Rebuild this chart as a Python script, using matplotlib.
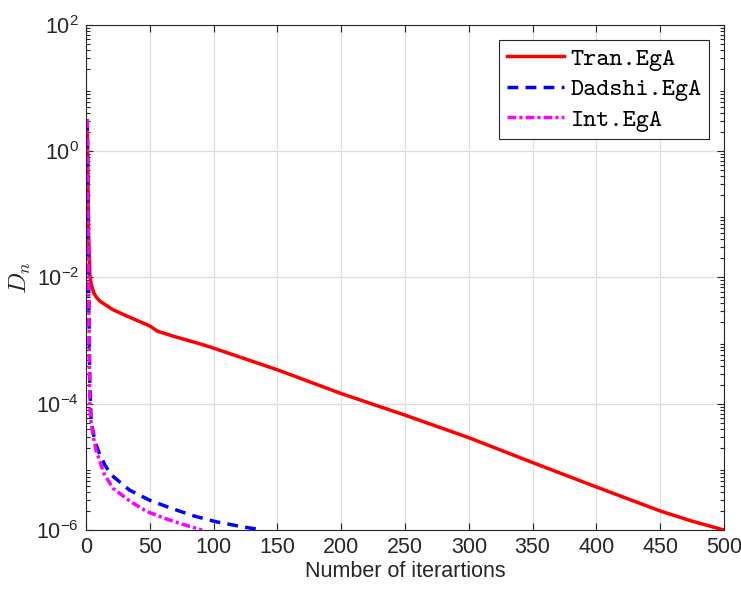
import numpy as np
import matplotlib
matplotlib.use('Agg')
import matplotlib.pyplot as plt
from matplotlib.ticker import LogLocator, NullFormatter, FixedLocator

# Values (D_n against iteration number)
tran_iter = [1, 2, 3, 4, 6, 8, 11, 21, 32, 48, 51, 56, 70, 91, 100, 136,
             150, 200, 250, 300, 350, 400, 425, 450, 475, 500]
tran_dn = [3.0, 5.0e-2, 1.12e-2, 7.9e-3, 5.75e-3, 4.9e-3, 4.2e-3, 3.1e-3,
           2.45e-3, 1.78e-3, 1.66e-3, 1.41e-3, 1.15e-3, 8.7e-4, 7.6e-4,
           4.3e-4, 3.45e-4, 1.45e-4, 6.6e-5, 2.9e-5, 1.17e-5, 4.8e-6,
           3.1e-6, 2.0e-6, 1.38e-6, 1.0e-6]

dadshi_iter = [1, 2, 3, 4, 6, 8, 11, 15, 20, 34, 50, 67, 85, 102, 123, 138]
dadshi_dn = [3.2, 1.0e-2, 2.0e-4, 5.6e-5, 3.2e-5, 2.2e-5, 1.55e-5, 1.05e-5,
             7.4e-6, 4.3e-6, 2.95e-6, 2.2e-6, 1.66e-6, 1.35e-6, 1.12e-6, 1.0e-6]

int_iter = [1, 2, 3, 4, 6, 8, 14, 21, 35, 48, 61, 74, 91]
int_dn = [3.2, 1.0e-2, 8.9e-5, 5.0e-5, 2.8e-5, 1.8e-5, 7.9e-6, 4.6e-6,
          2.8e-6, 1.95e-6, 1.55e-6, 1.26e-6, 1.0e-6]

labels = ['Tran.EgA', 'Dadshi.EgA', 'Int.EgA']
xticks = [0, 50, 100, 150, 200, 250, 300, 350, 400, 450, 500]

plt.rcParams['font.family'] = ['Liberation Sans', 'DejaVu Sans']
plt.rcParams['mathtext.fontset'] = 'custom'
plt.rcParams['mathtext.rm'] = 'Liberation Sans'
plt.rcParams['mathtext.it'] = 'Liberation Sans:italic'

dark = '#262626'
fig = plt.figure(figsize=(7.41, 5.90), dpi=100)
ax = fig.add_axes([86 / 741, 60 / 590, 638 / 741, 505 / 590])

ax.plot(tran_iter, tran_dn, color='red', lw=2.5, label=labels[0])
ax.plot(dadshi_iter, dadshi_dn, color='blue', lw=2.5, dashes=(3.1, 2.1),
        label=labels[1])
ax.plot(int_iter, int_dn, color='magenta', lw=2.5, dashes=(2.5, 0.9, 0.9, 0.9),
        label=labels[2])

ax.set_yscale('log')
ax.set_xlim(0, 500)
ax.set_ylim(1e-6, 1e2)
ax.xaxis.set_major_locator(FixedLocator(xticks))
ax.yaxis.set_major_locator(FixedLocator([1e-6, 1e-4, 1e-2, 1e0, 1e2]))
ax.yaxis.set_minor_locator(LogLocator(base=10, subs=np.arange(2, 10), numticks=20))
ax.yaxis.set_minor_formatter(NullFormatter())

ax.grid(True, which='major', color='#dedede', lw=0.9)
ax.set_axisbelow(True)
for s in ax.spines.values():
    s.set_color(dark)
    s.set_linewidth(0.8)
ax.tick_params(which='both', direction='in', top=True, right=True,
               colors=dark, labelsize=15.5, width=0.8)
ax.tick_params(which='major', length=5, pad=5)
ax.tick_params(which='minor', length=3)

ax.set_xlabel('Number of iterartions', fontsize=15.5, color=dark, labelpad=2)
ax.set_ylabel(r'$D_n$', fontsize=18, color=dark, labelpad=2,
              fontdict={'math_fontfamily': 'cm'})

leg = ax.legend(loc='upper right', fancybox=False, framealpha=1,
                edgecolor=dark, borderaxespad=0.6, handlelength=2.3,
                handletextpad=0.25, labelspacing=0.28, borderpad=0.3,
                prop={'family': 'cmtt10', 'size': 18})
leg.get_frame().set_linewidth(0.8)

fig.savefig('out.png', dpi=100)
